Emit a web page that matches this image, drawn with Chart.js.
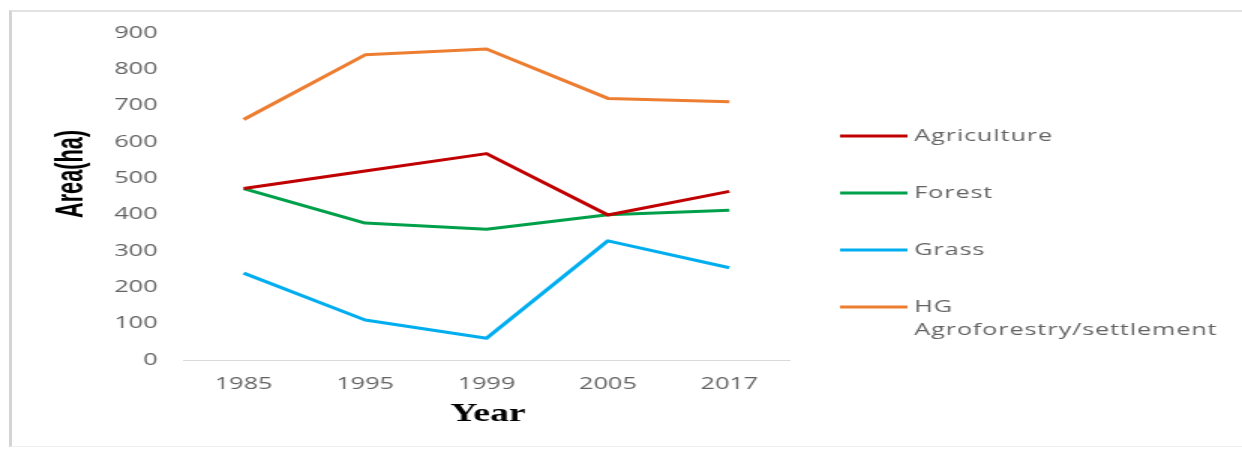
<!DOCTYPE html>
<html>
<head>
<meta charset="utf-8">
<script src="https://cdn.jsdelivr.net/npm/chart.js@4/dist/chart.umd.min.js"></script>
<style>
  html, body { margin: 0; padding: 0; background: #fff; }
  body { width: 1242px; height: 452px; position: relative; overflow: hidden; }
  #frame {
    position: absolute; left: 9px; top: 10px; width: 1240px; height: 434px;
    border-left: 3px solid #d4d4d4; border-top: 2px solid #e2e2e2; border-bottom: 1px solid #efefef;
  }
  /* the original picture is stretched sideways, so the chart is drawn narrow and widened */
  #wrap { position: absolute; left: 0; top: 0; width: 828px; height: 452px; transform: scaleX(1.5); transform-origin: 0 0; }
</style>
</head>
<body>
<div id="frame"></div>
<div id="wrap"><canvas id="chart" width="828" height="452"></canvas></div>
<script>
// ==================== DATA ====================
const years = ['1985', '1995', '1999', '2005', '2017'];
const agriculture = [472, 520, 568, 399, 464];
const forest = [472, 377, 360, 400, 412];
const grass = [239, 110, 60, 328, 254];
const hgAgroforestry = [662, 840, 856, 720, 711];
const yTicks = [0, 100, 200, 300, 400, 500, 600, 700, 800, 900];

const TEXT_GRAY = '#636363';
const TICK_FONT = { family: "'Open Sans', sans-serif", size: 16.8 };

// titles and the right-hand legend (the last label wraps onto two lines)
const decorPlugin = {
  id: 'decor',
  afterDraw(chart) {
    const ctx = chart.ctx;
    ctx.save();

    // y title, bold narrow
    ctx.font = "bold 25px 'Liberation Sans Narrow', 'Liberation Sans', sans-serif";
    const w = ctx.measureText('Area(ha)').width;
    ctx.translate(48, 174);
    ctx.rotate(-Math.PI / 2);
    ctx.scale(88 / w, 1);
    ctx.fillStyle = '#000';
    ctx.textAlign = 'center';
    ctx.textBaseline = 'middle';
    ctx.fillText('Area(ha)', 0, 0);
    ctx.restore();

    // x title, bold serif
    ctx.save();
    ctx.font = "bold 25px 'Liberation Serif', 'Times New Roman', serif";
    ctx.fillStyle = '#000';
    ctx.textAlign = 'center';
    ctx.textBaseline = 'middle';
    ctx.fillText('Year', 325.3, 415);

    // legend
    const rows = [136, 193, 250, 307];
    ctx.font = "16.8px 'Open Sans', sans-serif";
    ctx.textAlign = 'left';
    ctx.letterSpacing = '0.6px';
    chart.data.datasets.forEach((ds, i) => {
      const y = rows[i];
      ctx.strokeStyle = ds.borderColor;
      ctx.lineWidth = 3;
      ctx.beginPath();
      ctx.moveTo(560, y);
      ctx.lineTo(605, y);
      ctx.stroke();
      ctx.fillStyle = TEXT_GRAY;
      const lines = Array.isArray(ds.label) ? ds.label : [ds.label];
      lines.forEach((t, k) => ctx.fillText(t, 609.5, y + k * 23));
    });
    ctx.restore();
  }
};

new Chart(document.getElementById('chart'), {
  type: 'line',
  data: {
    labels: years,
    datasets: [
      { label: 'Agriculture', data: agriculture, borderColor: '#C00000' },
      { label: 'Forest', data: forest, borderColor: '#00A04A' },
      { label: 'Grass', data: grass, borderColor: '#00AEEF' },
      { label: ['HG', 'Agroforestry/settlement'], data: hgAgroforestry, borderColor: '#ED7D31' }
    ].map(ds => Object.assign(ds, {
      borderWidth: 3,
      pointRadius: 0,
      tension: 0,
      fill: false,
      borderJoinStyle: 'round'
    }))
  },
  options: {
    responsive: false,
    animation: false,
    devicePixelRatio: 1,
    layout: { padding: { top: 33, right: 301.3, bottom: 0, left: 0 } },
    plugins: {
      legend: { display: false },
      tooltip: { enabled: false }
    },
    scales: {
      x: {
        offset: true,
        grid: { display: false, drawTicks: false },
        border: { display: true, color: '#d9d9d9', width: 1 },
        ticks: { color: TEXT_GRAY, font: TICK_FONT, padding: 14, maxRotation: 0 },
        afterFit: (scale) => { scale.height = 92; }
      },
      y: {
        min: 0,
        max: 900,
        grid: { display: false, drawTicks: false },
        border: { display: false },
        ticks: {
          color: TEXT_GRAY,
          font: TICK_FONT,
          padding: 17,
          stepSize: 100,
          callback: (v) => yTicks.includes(v) ? String(v) : ''
        },
        afterFit: (scale) => { scale.width = 122; }
      }
    }
  },
  plugins: [decorPlugin]
});
</script>
</body>
</html>
